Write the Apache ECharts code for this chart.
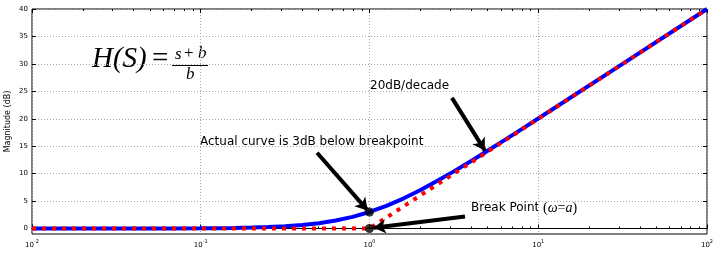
<!DOCTYPE html>
<html><head><meta charset="utf-8">
<script src="https://cdn.jsdelivr.net/npm/echarts@6/dist/echarts.min.js"></script>
<style>html,body{margin:0;padding:0;background:#fff}#c{width:720px;height:255px}</style>
</head><body><div id="c"></div>
<script>
// frequency (rad/s) and actual magnitude (dB)
const omega = [0.01, 0.0316, 0.0631, 0.1, 0.126, 0.158, 0.2, 0.251, 0.316, 0.398, 0.501, 0.631, 0.794, 1, 1.259, 1.585, 1.995, 2.512, 3.162, 3.981, 5.012, 6.31, 7.943, 10, 31.62, 100];
const actualDb = [0.0004, 0.004, 0.017, 0.043, 0.068, 0.108, 0.170, 0.266, 0.414, 0.639, 0.973, 1.455, 2.125, 3.010, 4.124, 5.455, 6.973, 8.639, 10.414, 12.266, 14.170, 16.108, 18.069, 20.043, 30.004, 40.0];
// straight-line (asymptotic) approximation, red dotted
const asymOmega = [0.01, 1, 100];
const asymDb = [0, 0, 40];
// highlighted points
const keyOmega = [1, 1];
const keyDb = [3.01, 0];
// tick values
const yTicks = [0, 5, 10, 15, 20, 25, 30, 35, 40];
const xMajor = [0.01, 0.1, 1, 10, 100];
const xMinor = [0.02,0.03,0.04,0.05,0.06,0.07,0.08,0.09,0.2,0.3,0.4,0.5,0.6,0.7,0.8,0.9,2,3,4,5,6,7,8,9,20,30,40,50,60,70,80,90];
// annotation arrows (data coordinates): tail -> head
const arrowTail = [[0.489, 13.8], [3.08, 23.8], [3.68, 2.2]];
const arrowHead = [[0.975, 3.3], [4.83, 14.2], [1.06, 0.15]];

const chart = echarts.init(document.getElementById('c'), null, {renderer: 'canvas'});
const gridStyle = {show: true, lineStyle: {color: '#a8a8a8', width: 1, type: [1, 2]}};
const supFmt = v => {
  const e = Math.round(Math.log10(v));
  return '{b|10}{s|' + e + '}';
};
const rich = {
  b: {fontSize: 7, fontFamily: 'DejaVu Sans', color: '#000', lineHeight: 10, verticalAlign: 'bottom'},
  s: {fontSize: 5, fontFamily: 'DejaVu Sans', color: '#000', lineHeight: 10, verticalAlign: 'top', padding: [0, 0, 4, 0]}
};
const option = {
  animation: false,
  backgroundColor: '#fff',
  grid: {left: 32, right: 13, top: 9, bottom: 21, containLabel: false, outerBoundsMode: 'none',
         show: true, borderColor: '#000', borderWidth: 1, backgroundColor: 'transparent'},
  xAxis: [
    {type: 'log', logBase: 10, min: 0.01, max: 100, position: 'bottom',
     axisLine: {show: true, lineStyle: {color: '#000', width: 1}},
     axisTick: {show: true, inside: true, length: 4, lineStyle: {color: '#000'}, customValues: xMajor},
     axisLabel: {show: true, margin: 5, formatter: supFmt, rich: rich, customValues: xMajor},
     splitLine: gridStyle, minorTick: {show: false}},
    {type: 'log', logBase: 10, min: 0.01, max: 100, position: 'bottom',
     axisLine: {show: false}, axisLabel: {show: false}, splitLine: {show: false},
     axisTick: {show: true, inside: true, length: 2, lineStyle: {color: '#000'}, customValues: xMinor}},
    {type: 'log', logBase: 10, min: 0.01, max: 100, position: 'top',
     axisLine: {show: false}, axisLabel: {show: false}, splitLine: {show: false},
     axisTick: {show: true, inside: true, length: 4, lineStyle: {color: '#000'}, customValues: xMajor}},
    {type: 'log', logBase: 10, min: 0.01, max: 100, position: 'top',
     axisLine: {show: false}, axisLabel: {show: false}, splitLine: {show: false},
     axisTick: {show: true, inside: true, length: 2, lineStyle: {color: '#000'}, customValues: xMinor}}
  ],
  yAxis: [
    {type: 'value', min: -1, max: 40, position: 'left',
     name: 'Magnitude (dB)', nameLocation: 'middle', nameGap: 20, nameMoveOverlap: false,
     nameTextStyle: {fontSize: 8, fontFamily: 'DejaVu Sans', color: '#000'},
     axisLine: {show: false},
     axisTick: {show: true, inside: true, length: 4, lineStyle: {color: '#000'}, customValues: yTicks},
     axisLabel: {show: true, fontSize: 7, fontFamily: 'DejaVu Sans', color: '#000', margin: 4, customValues: yTicks},
     splitLine: gridStyle},
    {type: 'value', min: -1, max: 40, position: 'right',
     axisLine: {show: false}, axisLabel: {show: false}, splitLine: {show: false},
     axisTick: {show: true, inside: true, length: 4, lineStyle: {color: '#000'}, customValues: yTicks}}
  ],
  series: [
    {type: 'line', name: 'actual', data: omega.map((w, i) => [w, actualDb[i]]),
     showSymbol: false, lineStyle: {color: '#0000ff', width: 4}, itemStyle: {color: '#0000ff'}, z: 2,
     markLine: {
       silent: true, animation: false, symbol: ['none', 'arrow'], symbolSize: [11, 12],
       lineStyle: {color: '#000', width: 4, type: 'solid'}, label: {show: false},
       data: arrowTail.map((t, i) => [{coord: t}, {coord: arrowHead[i]}])
     }},
    {type: 'line', name: 'asymptote', data: asymOmega.map((w, i) => [w, asymDb[i]]),
     showSymbol: false, lineStyle: {color: '#ff0000', width: 4, type: [4, 6], cap: 'butt'}, itemStyle: {color: '#ff0000'}, z: 3},
    {type: 'scatter', name: 'points', data: keyOmega.map((w, i) => [w, keyDb[i]]),
     symbol: 'circle', symbolSize: 9, itemStyle: {color: '#000'}, z: 5}
  ],
  graphic: [
    {type: 'text', left: 92, top: 45, style: {text: 'H(S)', font: 'italic 29px "Liberation Serif"', fill: '#000'}},
    {type: 'text', left: 152, top: 45, style: {text: '=', font: '29px "Liberation Serif"', fill: '#000'}},
    {type: 'text', left: 175, top: 46, style: {text: 's', font: 'italic 17px "Liberation Serif"', fill: '#000'}},
    {type: 'text', left: 184, top: 45, style: {text: '+', font: '17px "Liberation Serif"', fill: '#000'}},
    {type: 'text', left: 198, top: 45, style: {text: 'b', font: 'italic 17px "Liberation Serif"', fill: '#000'}},
    {type: 'line', shape: {x1: 172, y1: 65.5, x2: 208, y2: 65.5}, style: {stroke: '#000', lineWidth: 1}},
    {type: 'text', left: 186, top: 66, style: {text: 'b', font: 'italic 17px "Liberation Serif"', fill: '#000'}},
    {type: 'text', left: 200, top: 136, style: {text: 'Actual curve is 3dB below breakpoint', font: '12px "DejaVu Sans"', fill: '#000'}},
    {type: 'text', left: 370, top: 80, style: {text: '20dB/decade', font: '12px "DejaVu Sans"', fill: '#000'}},
    {type: 'text', left: 471, top: 201, style: {
      text: '{a|Break Point }{m|(}{i|ω}{m|=}{i|a}{m|)}',
      rich: {
        a: {font: '12px "DejaVu Sans"', fill: '#000'},
        m: {font: '14px "Liberation Serif"', fill: '#000'},
        i: {font: 'italic 14px "Liberation Serif"', fill: '#000'}
      }}}
  ]
};
chart.setOption(option);
</script></body></html>
